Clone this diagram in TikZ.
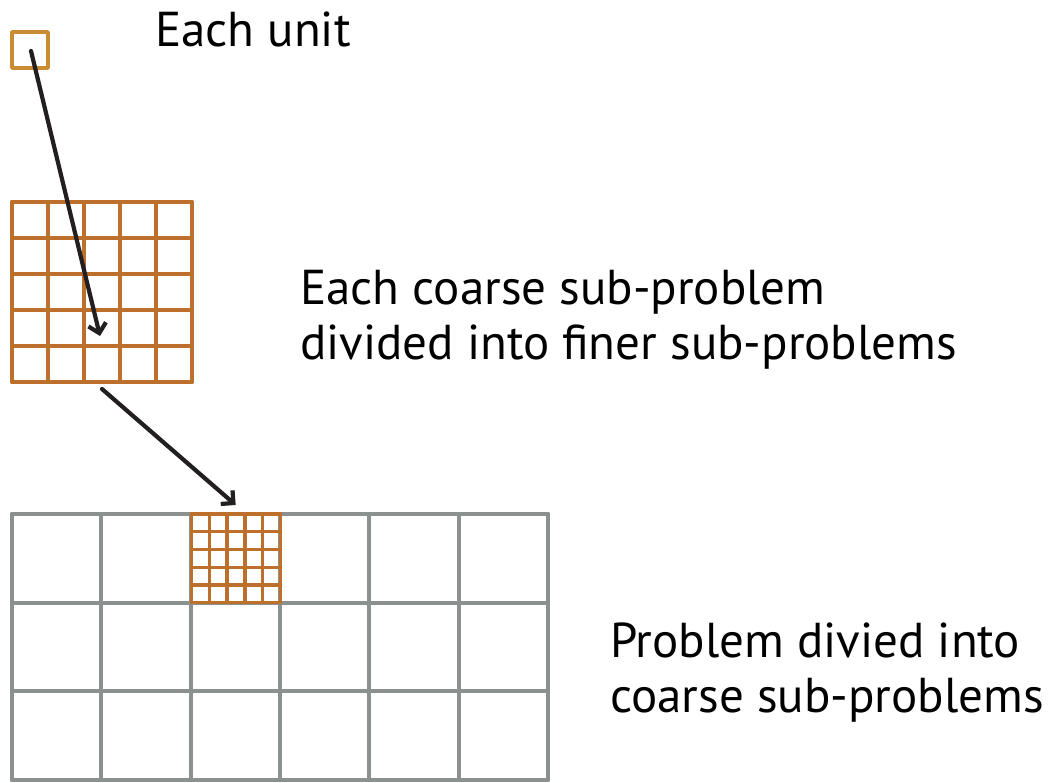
\documentclass[tikz,border=0pt]{standalone}
\usepackage{fontspec}
\setmainfont{PT Sans}
\usetikzlibrary{arrows.meta}
\definecolor{unitc}{HTML}{C98B33}
\definecolor{finec}{HTML}{BD6F2C}
\definecolor{gridc}{HTML}{8A918F}
\definecolor{arrowc}{HTML}{231F20}
\begin{document}
\begin{tikzpicture}[x=1pt,y=-1pt,
  lbl/.style={font=\fontsize{49}{55}\selectfont, anchor=base west, inner sep=0pt, align=left},
  conn/.style={draw=arrowc, line width=4.2pt, line cap=round, -{Straight Barb[length=9pt,width=18pt,line width=4.2pt]}},
  cell/.style={inner sep=0pt, outer sep=0pt, draw=none},
  orangeline/.style={draw=finec, line width=3.8pt, line cap=round, line join=round},
  grayline/.style={draw=gridc, line width=3.8pt, line cap=round, line join=round}]
\useasboundingbox (0,0) rectangle (1052,783);
% nodes for the shapes
\node[cell, minimum width=36pt, minimum height=36pt] (unit) at (30,50) {};
\node[cell, minimum width=180pt, minimum height=180pt] (coarse) at (102,292) {};
\node[cell, minimum width=536pt, minimum height=266pt] (problem) at (280,647) {};
\node[cell, minimum width=89.33pt, minimum height=88.67pt] (fine) at (235.67,558.33) {};
% big gray grid
\foreach \i in {0,...,6} \draw[grayline] ({12+\i*89.333},514) -- ++(0,266);
\foreach \j in {0,...,3} \draw[grayline] (12,{514+\j*88.667}) -- ++(536,0);
% fine grid
\foreach \i in {0,...,5} \draw[orangeline, line width=3.3pt] ({191.33+\i*17.867},514) -- ++(0,88.67);
\foreach \j in {0,...,5} \draw[orangeline, line width=3.3pt] (191.33,{514+\j*17.733}) -- ++(89.33,0);
% coarse grid
\foreach \i in {0,...,5} \draw[orangeline] ({12+\i*36},202) -- ++(0,180);
\foreach \j in {0,...,5} \draw[orangeline] (12,{202+\j*36}) -- ++(180,0);
% unit
\draw[draw=unitc, line width=3.5pt, line join=round] (unit.north west) rectangle (unit.south east);
% connectors
\coordinate (target) at (100,336);
\draw[conn] ([shift={(1,1)}]unit.center) -- (target);
\draw[conn] ([yshift=-7pt]coarse.south) -- ([yshift=9pt]fine.north);
% labels
\node[lbl] (tunit) at (155,47) {Each unit};
\node[lbl] (tcoarse) at (300,360) {Each coarse sub-problem\\divided into finer sub-problems};
\node[lbl] (tprob) at (610,712) {Problem divied into\\coarse sub-problems};
\end{tikzpicture}
\end{document}
